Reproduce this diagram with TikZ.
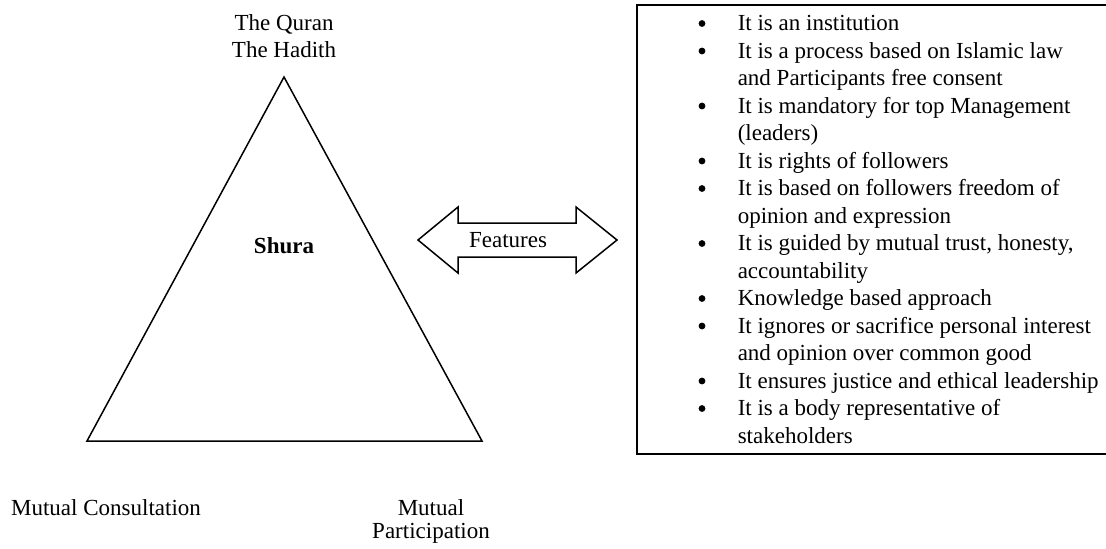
\documentclass[tikz,border=0pt]{standalone}
\usepackage{fontspec}
\setmainfont{Liberation Serif}
\begin{document}
\begin{tikzpicture}[x=0.5pt,y=-0.5pt,line width=0.75pt,
  txt/.style={inner sep=0pt,font=\fontsize{11.5}{13.75}\selectfont},
  listtext/.style={txt,anchor=base west},
  bul/.style={circle,fill=black,inner sep=0pt,minimum size=3.4pt}]
\useasboundingbox (0,0) rectangle (1106,548);
% triangle
\coordinate (apex) at (284,77);
\coordinate (bl) at (87,441);
\coordinate (br) at (482,441);
\draw[line join=miter] (apex) -- (bl) -- (br) -- cycle;
\node[txt] (shura) at (284,246) {\bfseries Shura};
\node[txt] (quran) at (284,24) {The Quran};
\node[txt] (hadith) at (284,50) {The Hadith};
\node[txt] (mc) at (106,508) {Mutual Consultation};
\node[txt] (mu) at (431,508) {Mutual};
\node[txt] (mp) at (431,533) {Participation};
% double arrow
\node[txt] (feat) at (508,240) {Features};
\coordinate (a1) at (418,240);
\coordinate (a2) at (458,207);
\coordinate (a3) at (458,223);
\coordinate (a4) at (576,223);
\coordinate (a5) at (576,207);
\coordinate (a6) at (617,240);
\coordinate (a7) at (576,273);
\coordinate (a8) at (576,257);
\coordinate (a9) at (458,257);
\coordinate (a10) at (458,273);
\draw[line join=miter] (a1) -- (a2) -- (a3) -- (a4) -- (a5) -- (a6) -- (a7) -- (a8) -- (a9) -- (a10) -- cycle;
% box
\coordinate (bx1) at (637,5);
\coordinate (bx2) at (1112,454);
\draw (bx1) rectangle (bx2);
\foreach \k/\t in {0/{It is an institution},
  1/{It is a process based on Islamic law},
  2/{and Participants free consent},
  3/{It is mandatory for top Management},
  4/{(leaders)},
  5/{It is rights of followers},
  6/{It is based on followers freedom of},
  7/{opinion and expression},
  8/{It is guided by mutual trust, honesty,},
  9/{accountability},
  10/{Knowledge based approach},
  11/{It ignores or sacrifice personal interest},
  12/{and opinion over common good},
  13/{It ensures justice and ethical leadership},
  14/{It is a body representative of},
  15/{stakeholders}}
  \node[listtext] (line\k) at (737,30.5+27.5*\k) {\t};
\foreach \k in {0,1,3,5,6,8,10,11,13,14}
  \node[bul] (bul\k) at (702,23.5+27.5*\k) {};
\end{tikzpicture}
\end{document}
